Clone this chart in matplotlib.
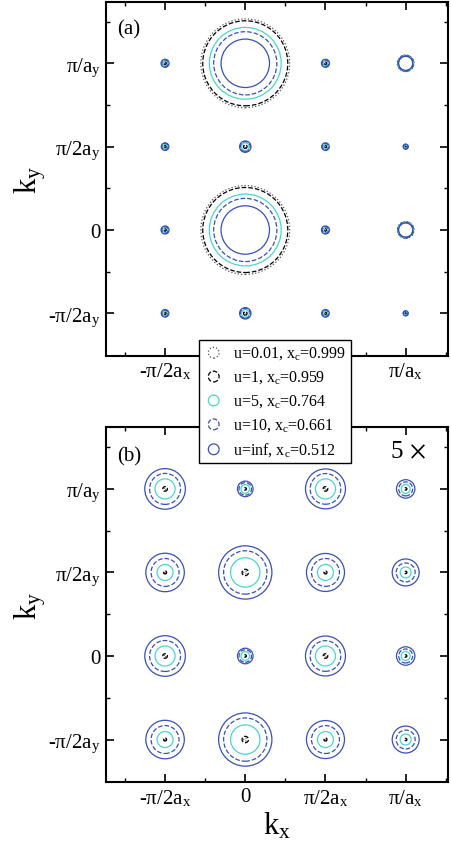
import numpy as np
import matplotlib; matplotlib.use("Agg")
import matplotlib.pyplot as plt
from matplotlib.collections import EllipseCollection

plt.rcParams.update({"font.family": "serif", "font.serif": ["Liberation Serif"],
                     "mathtext.fontset": "stix", "axes.linewidth": 1.5})

# grid of k-points (units of pi/a): rows ky = 1, 1/2, 0, -1/2 ; cols kx = -1/2, 0, 1/2, 1
KX = [-0.5, 0.0, 0.5, 1.0]
KY = [1.0, 0.5, 0.0, -0.5]
XTICKLAB = ["-π/2a$_\\mathregular{x}$", "0", "π/2a$_\\mathregular{x}$", "π/a$_\\mathregular{x}$"]
YTICKLAB = ["π/a$_\\mathregular{y}$", "π/2a$_\\mathregular{y}$", "0", "-π/2a$_\\mathregular{y}$"]

LABELS = ["u=0.01, x$_\\mathregular{c}$=0.999", "u=1, x$_\\mathregular{c}$=0.959",
          "u=5, x$_\\mathregular{c}$=0.764", "u=10, x$_\\mathregular{c}$=0.661",
          "u=inf, x$_\\mathregular{c}$=0.512"]

# panel (a): pocket radii (units of pi/a)
ra_u001 = [[0.005, 0.277, 0.005, 0.0517], [0.005, 0.0062, 0.005, 0.003],
           [0.005, 0.277, 0.005, 0.0517], [0.005, 0.0062, 0.005, 0.003]]
ra_u1   = [[0.008, 0.265, 0.008, 0.0498], [0.0075, 0.0112, 0.0075, 0.005],
           [0.008, 0.265, 0.008, 0.0498], [0.0075, 0.0112, 0.0075, 0.005]]
ra_u5   = [[0.0156, 0.224, 0.0156, 0.0486], [0.015, 0.0237, 0.015, 0.010],
           [0.0156, 0.224, 0.0156, 0.0486], [0.015, 0.0237, 0.015, 0.010]]
ra_u10  = [[0.0205, 0.197, 0.0205, 0.0467], [0.020, 0.031, 0.020, 0.0137],
           [0.0205, 0.197, 0.0205, 0.0467], [0.020, 0.031, 0.020, 0.0137]]
ra_uinf = [[0.025, 0.151, 0.025, 0.0436], [0.0237, 0.0355, 0.0237, 0.0162],
           [0.025, 0.151, 0.025, 0.0436], [0.0237, 0.0355, 0.0237, 0.0162]]

# panel (b): pocket radii (units of pi/a), drawn magnified
MAG = 5
rb_u001 = [[0.0012, 0.0007, 0.0012, 0.0007], [0.0010, 0.0019, 0.0010, 0.0007],
           [0.0012, 0.0007, 0.0012, 0.0007], [0.0010, 0.0019, 0.0010, 0.0007]]
rb_u1   = [[0.0029, 0.0015, 0.0029, 0.0015], [0.0019, 0.0040, 0.0019, 0.0015],
           [0.0029, 0.0015, 0.0029, 0.0015], [0.0019, 0.0040, 0.0019, 0.0015]]
rb_u5   = [[0.0125, 0.0054, 0.0125, 0.0056], [0.0100, 0.0183, 0.0100, 0.0068],
           [0.0125, 0.0054, 0.0125, 0.0056], [0.0100, 0.0183, 0.0100, 0.0068]]
rb_u10  = [[0.0193, 0.0078, 0.0191, 0.0087], [0.0174, 0.0270, 0.0174, 0.0118],
           [0.0193, 0.0078, 0.0191, 0.0087], [0.0174, 0.0270, 0.0174, 0.0118]]
rb_uinf = [[0.0253, 0.0097, 0.0249, 0.0115], [0.0240, 0.0332, 0.0237, 0.0168],
           [0.0253, 0.0097, 0.0249, 0.0115], [0.0240, 0.0332, 0.0237, 0.0168]]

COL = ["#555555", "black", "#48d8c8", "#3a4fb8", "#3a4fb8"]
LS = [":", "--", "-", "--", "-"]

def draw(ax, radii, mag=1, xlabels=XTICKLAB):
    X, Y = np.meshgrid(KX, KY)
    offs = np.column_stack([X.ravel(), Y.ravel()])
    for r, c, ls in zip(radii, COL, LS):
        d = 2 * mag * np.asarray(r).ravel()
        ec = EllipseCollection(d, d, np.zeros_like(d), units="x", offsets=offs,
                               offset_transform=ax.transData, facecolors="none",
                               edgecolors=c, linestyles=ls, linewidths=0.9)
        ax.add_collection(ec)
    ax.set_xlim(-0.87, 1.262); ax.set_ylim(-0.756, 1.368)
    ax.set_xticks(KX); ax.set_xticklabels(xlabels)
    ax.set_yticks(KY); ax.set_yticklabels(YTICKLAB)
    ax.set_xticks([-0.75, -0.25, 0.25, 0.75, 1.25], minor=True)
    ax.set_yticks([-0.25, 0.25, 0.75, 1.25], minor=True)
    ax.tick_params(which="both", direction="in", top=True, right=True, labelsize=15)
    ax.tick_params(which="major", length=6, width=1.2)
    ax.tick_params(which="minor", length=3, width=1.0)
    ax.set_ylabel("k$_\\mathregular{y}$", fontsize=22)
    ax.yaxis.set_label_coords(-0.17, 0.5)

fig = plt.figure(figsize=(4.51, 8.45), dpi=100)
axa = fig.add_axes([0.2344, 0.5775, 0.7583, 0.419])
axb = fig.add_axes([0.2344, 0.073, 0.7583, 0.420])
# middle labels of (a) sit under the legend, so leave them blank
draw(axa, [ra_u001, ra_u1, ra_u5, ra_u10, ra_uinf],
     xlabels=[XTICKLAB[0], "", "", XTICKLAB[3]])
draw(axb, [rb_u001, rb_u1, rb_u5, rb_u10, rb_uinf], mag=MAG)
axb.set_xlabel("k$_\\mathregular{x}$", fontsize=22, labelpad=2)
axa.text(0.033, 0.925, "(a)", transform=axa.transAxes, fontsize=15, va="center")
axb.text(0.033, 0.92, "(b)", transform=axb.transAxes, fontsize=15, va="center")
axb.text(0.885, 0.933, f"{MAG}$\\,\\times$", transform=axb.transAxes, fontsize=18,
         ha="center", va="center")

handles = [axb.scatter([], [], s=60, facecolors="none", edgecolors=c, linestyles=ls,
                       linewidths=0.9) for c, ls in zip(COL, LS)]
fig.legend(handles, LABELS, loc="upper left", bbox_to_anchor=(0.442, 0.5968),
           fontsize=11.5, scatterpoints=1, frameon=True, fancybox=False,
           edgecolor="black", framealpha=1, borderpad=0.3, labelspacing=0.45,
           handletextpad=0.6, handlelength=1.2, borderaxespad=0)
fig.savefig("out.png", dpi=100)
